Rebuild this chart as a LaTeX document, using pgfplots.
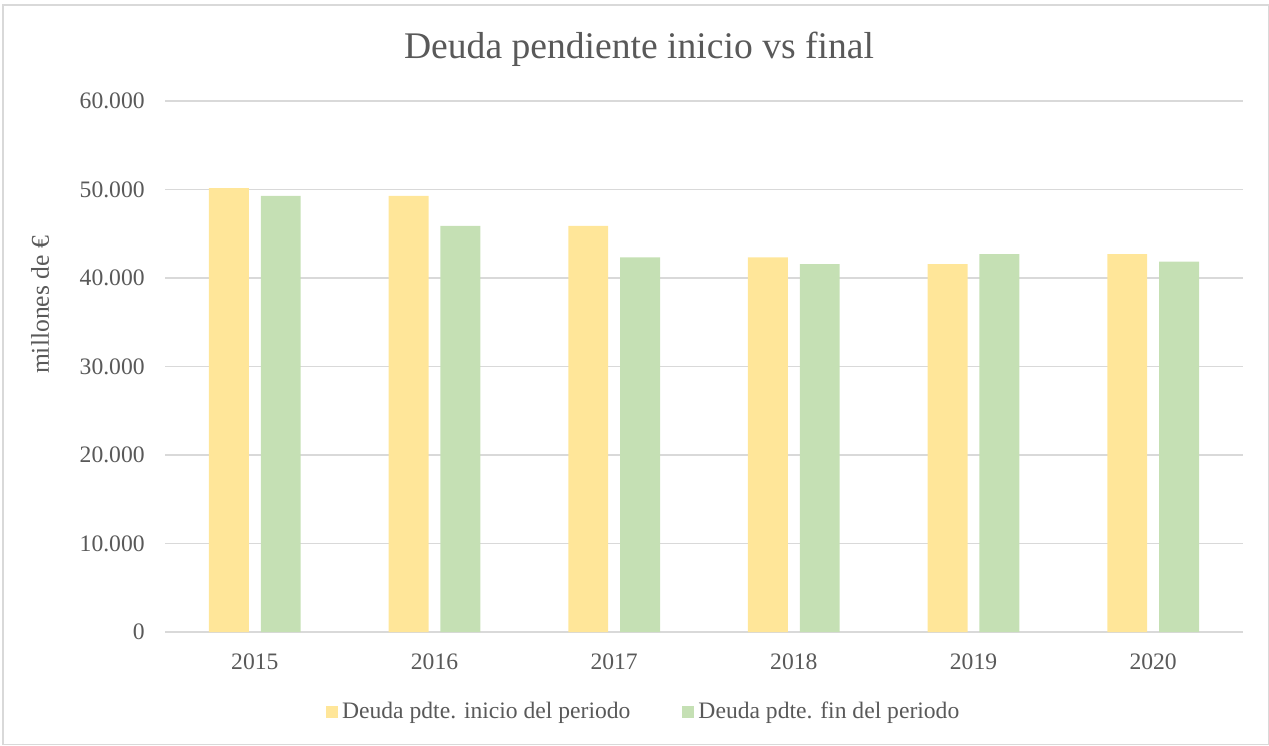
\documentclass[border=0pt]{standalone}
\usepackage{pgfplots}
\pgfplotsset{compat=1.18}
\usepackage{fontspec}
\setmainfont{Liberation Serif}
\definecolor{cyel}{HTML}{FFE699}
\definecolor{cgrn}{HTML}{C5E0B4}
\definecolor{cgrid}{HTML}{D9D9D9}
\definecolor{ctxt}{HTML}{595959}
\pgfplotstableread{
x ini fin
0 50170 49270
1 49270 45880
2 45880 42340
3 42340 41580
4 41580 42710
5 42710 41840
}\datatab
\begin{document}
\begin{tikzpicture}[x=0.5pt,y=0.5pt]
\useasboundingbox (0,0) rectangle (1269,745);
\draw[cgrid, line width=0.75pt] (3,0.5) rectangle (1268.5,740);
\node[text=ctxt, font=\fontsize{18.8}{22}\selectfont] at (639,696) {Deuda pendiente inicio vs final};
\node[text=ctxt, font=\fontsize{12.8}{15}\selectfont, rotate=90] at (40,440) {millones de €};
\begin{axis}[
  at={(82.5pt,56.5pt)}, anchor=south west,
  scale only axis, width=539pt, height=265.5pt,
  xmin=-0.5, xmax=5.5, ymin=0, ymax=60000,
  ybar, bar width=0.2222,
  xtick=data, xticklabels={2015,2016,2017,2018,2019,2020},
  ytick={0,10000,20000,30000,40000,50000,60000},
  scaled y ticks=false,
  /pgf/number format/.cd, 1000 sep={.}, assume math mode=true, /pgfplots/.cd,
  major tick length=0pt,
  axis line style={draw=none},
  ymajorgrids, grid style={cgrid, line width=0.9pt},
  tick label style={text=ctxt, font=\fontsize{11.8}{14}\selectfont},
  yticklabel style={anchor=east, inner sep=0pt, xshift=-10pt},
  xticklabel style={anchor=north, inner sep=0pt, yshift=-10.5pt},
  legend style={at={(0.445,-0.1507)}, anchor=center, draw=none, fill=none,
    legend columns=2, font=\fontsize{11.8}{14}\selectfont, text=ctxt,
    /tikz/every even column/.append style={column sep=24pt},
    inner sep=0pt, legend cell align=left},
  legend image code/.code={\fill[#1] (0pt,-3pt) rectangle (6pt,3pt);},
]
\addplot[fill=cyel, draw=none, bar shift=-0.1444] table[x=x,y=ini] {\datatab};
\addplot[fill=cgrn, draw=none, bar shift=0.1444] table[x=x,y=fin] {\datatab};
\legend{Deuda pdte. inicio del periodo, Deuda pdte. fin del periodo}
\end{axis}
\end{tikzpicture}
\end{document}
